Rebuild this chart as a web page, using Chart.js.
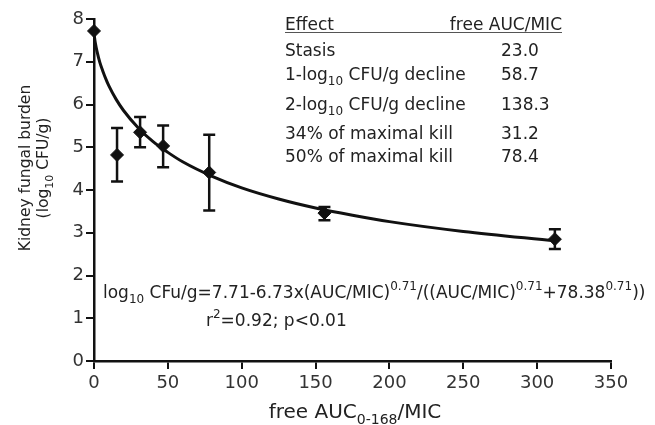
<!DOCTYPE html>
<html><head><meta charset="utf-8">
<script src="https://cdn.jsdelivr.net/npm/chart.js@4"></script>
<style>html,body{margin:0;padding:0;background:#fff}#wrap{width:655px;height:425px;position:relative}</style>
</head><body><div id="wrap"><canvas id="c" width="655" height="425"></canvas></div>
<script>
const doses   = [0, 15.6, 31.2, 46.8, 78, 156, 312];
const burden  = [7.72, 4.82, 5.35, 5.03, 4.41, 3.46, 2.85];
const errLow  = [7.72, 4.20, 5.00, 4.53, 3.52, 3.29, 2.62];
const errHigh = [7.72, 5.45, 5.71, 5.51, 5.29, 3.60, 3.08];
// Fitted curve
const fitX = [0, 0.2, 0.5, 1, 2, 4, 6, 8, 10, 15, 20, 30, 40, 50, 60, 80, 100, 125, 150, 175, 200, 250, 312];
const fitY = [7.71, 7.61, 7.53, 7.42, 7.25, 6.98, 6.78, 6.60, 6.44, 6.12, 5.86, 5.45, 5.13, 4.88, 4.66, 4.32, 4.05, 3.79, 3.58, 3.41, 3.26, 3.03, 2.81];
// Axes
const xTicks = [0, 50, 100, 150, 200, 250, 300, 350];
const yTicks = [0, 1, 2, 3, 4, 5, 6, 7, 8];
// Inset table
const tableHeader = ['Effect', 'free AUC/MIC'];
const effects = ['Stasis', '1-log_{10} CFU/g decline', '2-log_{10} CFU/g decline', '34% of maximal kill', '50% of maximal kill'];
const effectValues = [23.0, 58.7, 138.3, 31.2, 78.4];
// Texts
const equationText = 'log_{10} CFu/g=7.71-6.73x(AUC/MIC)^{0.71}/((AUC/MIC)^{0.71}+78.38^{0.71}))';
const statText = 'r^{2}=0.92; p<0.01';
const xTitle = 'free AUC_{0-168}/MIC';
const yTitle = ['Kidney fungal burden', '(log_{10} CFU/g)'];

const FAM = '"DejaVu Sans", sans-serif';
const INK = '#111';
const TXT = '#222';

function richParts(s){
  const out=[]; const re=/([_^])\{([^}]*)\}/g; let last=0,m;
  while((m=re.exec(s))){
    if(m.index>last) out.push({t:s.slice(last,m.index),m:'n'});
    out.push({t:m[2],m:m[1]==='_'?'sub':'sup'});
    last=re.lastIndex;
  }
  if(last<s.length) out.push({t:s.slice(last),m:'n'});
  return out;
}
function drawRich(ctx,s,x,y,size,align,color,subScale){
  const parts=richParts(s);
  const sc=subScale||0.68;
  const f=p=>(p.m==='n'?size:Math.round(size*sc))+'px '+FAM;
  let w=0;
  parts.forEach(p=>{ctx.font=f(p);p.w=ctx.measureText(p.t).width;w+=p.w;});
  let cx = align==='center'? x-w/2 : align==='right'? x-w : x;
  ctx.textBaseline='alphabetic'; ctx.textAlign='left'; ctx.fillStyle=color||TXT;
  parts.forEach(p=>{
    ctx.font=f(p);
    const dy = p.m==='sub'? size*0.3 : p.m==='sup'? -size*0.45 : 0;
    ctx.fillText(p.t,cx,y+dy); cx+=p.w;
  });
  return w;
}

const errorBars = {
  id:'errorBars',
  afterDatasetsDraw(chart){
    const ctx=chart.ctx, xs=chart.scales.x, ys=chart.scales.y;
    ctx.save(); ctx.strokeStyle=INK; ctx.lineWidth=2.5;
    doses.forEach((d,i)=>{
      if(errHigh[i]-errLow[i] <= 0) return;
      const px=xs.getPixelForValue(d), y1=ys.getPixelForValue(errLow[i]), y2=ys.getPixelForValue(errHigh[i]);
      ctx.beginPath();
      ctx.moveTo(px,y1); ctx.lineTo(px,y2);
      ctx.moveTo(px-6,y1); ctx.lineTo(px+6,y1);
      ctx.moveTo(px-6,y2); ctx.lineTo(px+6,y2);
      ctx.stroke();
    });
    ctx.restore();
  }
};

const annotations = {
  id:'annotations',
  afterDraw(chart){
    const ctx=chart.ctx;
    ctx.save();
    // table
    drawRich(ctx,tableHeader[0],285,30,17,'left');
    drawRich(ctx,tableHeader[1],562,30,17,'right');
    ctx.strokeStyle='#555'; ctx.lineWidth=1;
    ctx.beginPath(); ctx.moveTo(285,32.5); ctx.lineTo(562,32.5); ctx.stroke();
    const rowY=[56,80,110,139,162];
    effects.forEach((e,i)=>{
      drawRich(ctx,e,285,rowY[i],17,'left');
      drawRich(ctx,effectValues[i].toFixed(1),501,rowY[i],17,'left');
    });
    // equation
    drawRich(ctx,equationText,103,298,17,'left');
    drawRich(ctx,statText,206,326,17,'left');
    // x title
    drawRich(ctx,xTitle,355,418,20,'center',TXT,0.72);
    // y title
    ctx.save(); ctx.translate(30,168); ctx.rotate(-Math.PI/2);
    drawRich(ctx,yTitle[0],0,0,15.5,'center');
    ctx.restore();
    ctx.save(); ctx.translate(48,168); ctx.rotate(-Math.PI/2);
    drawRich(ctx,yTitle[1],0,0,15.5,'center');
    ctx.restore();
    ctx.restore();
  }
};

const axisCommon = {
  grid:{display:true,drawOnChartArea:false,drawTicks:true,tickLength:8,color:INK,lineWidth:2},
  border:{display:true,color:INK,width:2.5},
  ticks:{color:'#333',font:{family:FAM,size:18},padding:2}
};

new Chart(document.getElementById('c'),{
  type:'scatter',
  data:{datasets:[
    {label:'fit',data:fitX.map((x,i)=>({x,y:fitY[i]})),showLine:true,borderColor:INK,borderWidth:3,pointRadius:0,pointHoverRadius:0,cubicInterpolationMode:'monotone',fill:false,clip:false,order:2},
    {label:'obs',data:doses.map((x,i)=>({x,y:burden[i]})),showLine:false,pointStyle:'rectRot',pointRadius:6.5,pointHoverRadius:6.5,backgroundColor:INK,borderColor:INK,borderWidth:1,clip:false,order:1}
  ]},
  options:{
    responsive:false,animation:false,devicePixelRatio:1,
    layout:{padding:{left:0,top:19,right:44,bottom:0}},
    plugins:{legend:{display:false},tooltip:{enabled:false}},
    scales:{
      x:{type:'linear',min:0,max:350,
        afterBuildTicks(s){s.ticks=xTicks.map(v=>({value:v}));},
        afterFit(s){s.height=64;},
        ...axisCommon,
        ticks:{...axisCommon.ticks,padding:4,maxRotation:0}},
      y:{type:'linear',min:0,max:8,
        afterBuildTicks(s){s.ticks=yTicks.map(v=>({value:v}));},
        afterFit(s){s.width=94;},
        ...axisCommon}
    }
  },
  plugins:[errorBars,annotations]
});
</script>
</body></html>
